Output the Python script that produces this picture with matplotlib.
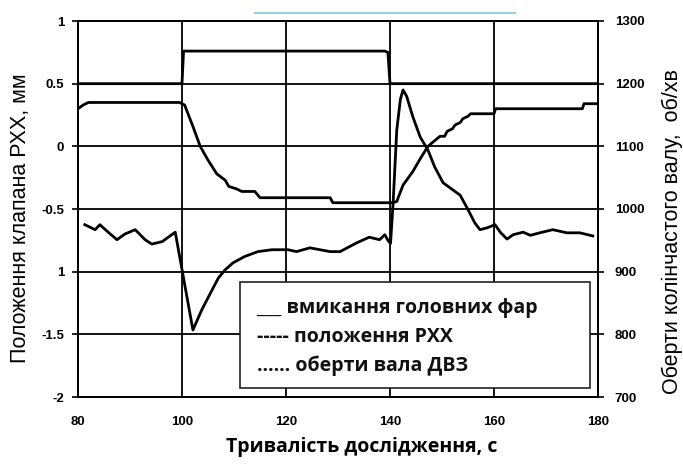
import matplotlib
matplotlib.use("Agg")
import matplotlib.pyplot as plt
from matplotlib.patches import Rectangle
from matplotlib.lines import Line2D

# ---- data ----
t_head = [80, 100, 100.3, 139, 139.6, 140, 180]
head = [0.5, 0.5, 0.76, 0.76, 0.75, 0.5, 0.5]

t_valve = [80, 81, 82, 99.5, 100.5, 102, 103.5, 105, 106.7, 108.3, 109, 110.5,
           111.5, 114, 115, 128.5, 129, 140.5, 141.3, 142.5, 144.4, 145.8,
           147.3, 149.6, 150.5, 151, 152, 152.5, 153.5, 154, 155, 155.5,
           160, 160.3, 177, 177.3, 180]
valve = [0.30, 0.33, 0.35, 0.35, 0.33, 0.17, 0.0, -0.11, -0.22, -0.27, -0.32,
         -0.34, -0.36, -0.36, -0.41, -0.41, -0.45, -0.45, -0.44, -0.31, -0.20,
         -0.10, 0.0, 0.08, 0.08, 0.12, 0.14, 0.17, 0.19, 0.22, 0.24, 0.26,
         0.26, 0.30, 0.30, 0.34, 0.34]

t_rpm = [81.3, 83.3, 84.2, 85.8, 87.5, 89, 91, 92.9, 94.2, 96.2, 98.7, 102.1,
         103.8, 105.8, 107, 108.3, 109.8, 112, 114.6, 117.3, 120.4, 122,
         124.6, 128.5, 130.4, 133.6, 136, 138, 139, 139.6, 140.1, 140.6,
         141.3, 142, 142.5, 143.2, 144.4, 145.8, 147.3, 148.6, 150.2, 151.5,
         153.5, 155, 156.3, 157.3, 158.7, 160.2, 161.2, 162.5, 163.7, 165.6,
         167, 168.8, 171.3, 174, 176.5, 179]
rpm = [975, 967, 975, 963, 951, 960, 967, 951, 944, 948, 963, 807, 839, 871,
       890, 903, 914, 924, 932, 935, 935, 932, 938, 932, 932, 946, 955, 951,
       959, 950, 945, 1010, 1126, 1175, 1190, 1180, 1147, 1115, 1094, 1067,
       1042, 1034, 1022, 999, 978, 967, 970, 975, 963, 952, 959, 963, 958,
       962, 967, 962, 962, 957]

x_ticks = [80, 100, 120, 140, 160, 180]
x_tick_labels = ["80", "100", "120", "140", "160", "180"]
left_ticks = [1, 0.5, 0, -0.5, -1, -1.5, -2]
left_tick_labels = ["1", "0.5", "0", "-0.5", "1", "-1.5", "-2"]
right_ticks = [1300, 1200, 1100, 1000, 900, 800, 700]
right_tick_labels = ["1300", "1200", "1100", "1000", "900", "800", "700"]

legend_lines = ["___ вмикання головних фар",
                "----- положення РХХ",
                "…… оберти вала ДВЗ"]

xlabel = "Тривалість дослідження, с"
ylabel_left = "Положення клапана РХХ, мм"
ylabel_right = "Оберти колінчастого валу,  об/хв"

# ---- figure ----
fig = plt.figure(figsize=(6.83, 4.66), dpi=100)
ax = fig.add_axes([78/683, 69/466, 520/683, 376/466])
ax2 = ax.twinx()

ax.set_xlim(80, 180)
ax.set_ylim(-2, 1)
ax2.set_ylim(700, 1300)

tick_font = dict(family=["Liberation Sans", "DejaVu Sans"], weight="bold", size=9.5)
ax.set_xticks(x_ticks)
ax.set_xticklabels(x_tick_labels, **tick_font)
ax.set_yticks(left_ticks)
ax.set_yticklabels(left_tick_labels, **tick_font)
ax2.set_yticks(right_ticks)
ax2.set_yticklabels(right_tick_labels, **tick_font)

ax.tick_params(axis="x", length=0, pad=14)
ax.tick_params(axis="y", length=4, width=1.2, pad=6, direction="out")
ax2.tick_params(axis="y", length=4, width=1.2, pad=8, direction="out")

ax.grid(True, color="black", linewidth=1.3)
for a in (ax, ax2):
    for s in a.spines.values():
        s.set_linewidth(1.4)
        s.set_color("black")

ax.plot(t_head, head, color="black", lw=2.0, zorder=3)
ax.plot(t_valve, valve, color="black", lw=2.0, zorder=3)
ax2.plot(t_rpm, rpm, color="black", lw=2.0, zorder=3)

# legend box
box = Rectangle((240/683, (466-388)/466), 350/683, 106/466, transform=fig.transFigure,
                facecolor="white", edgecolor="#222222", lw=1.2, zorder=10)
fig.patches.append(box)
leg_font = dict(family=["Open Sans", "DejaVu Sans"], weight="bold", size=14)
for i, txt in enumerate(legend_lines):
    fig.text(257/683, (466 - (308 + 29*i))/466, txt, ha="left", va="center",
             color="#111111", zorder=11, **leg_font)

fig.text(362/683, (466-447)/466, xlabel, ha="center", va="center",
         family=["Open Sans", "DejaVu Sans"], weight="bold", size=14)
fig.text(21/683, (466-218)/466, ylabel_left, ha="center", va="center", rotation=90,
         family=["Liberation Sans", "DejaVu Sans"], size=15.5)
fig.text(672/683, (466-232)/466, ylabel_right, ha="center", va="center", rotation=90,
         family=["Liberation Sans", "DejaVu Sans"], size=15.5)

# light-blue stroke at the top
fig.add_artist(Line2D([255/683, 515/683], [(466-13)/466]*2, color="#8fd3e0", lw=1.5,
                      transform=fig.transFigure))

fig.savefig("out.png", dpi=100)
